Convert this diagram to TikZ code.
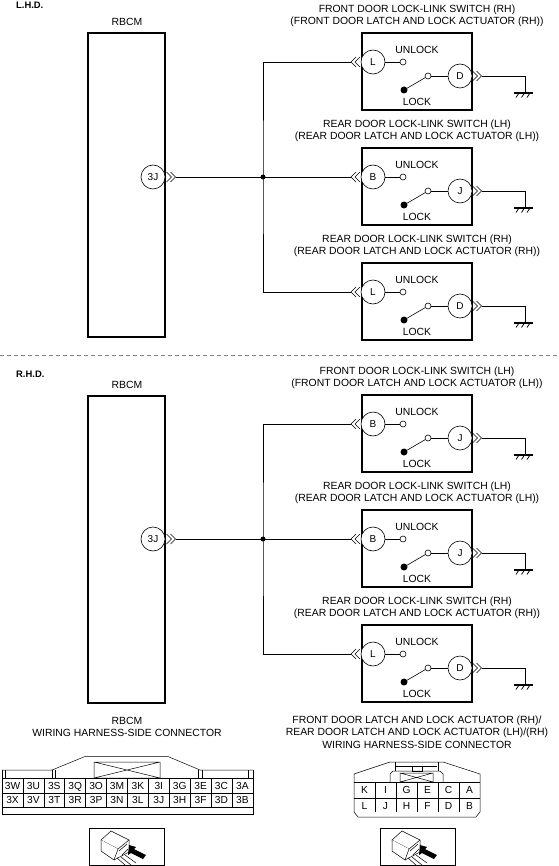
\documentclass[tikz,border=0pt]{standalone}
\usepackage{fontspec}
\setmainfont{Liberation Sans}
\tikzset{
  x=1pt,y=-1pt,
  lbl/.style={inner sep=0pt,font=\fontsize{10.4}{12}\selectfont,align=center},
  pinlbl/.style={inner sep=0pt,text height=7pt,text depth=0pt,font=\fontsize{10.2}{12}\selectfont},
  term/.style={circle,draw,fill=white,minimum size=24pt,inner sep=0pt,line width=0.6pt,font=\fontsize{10}{12}\selectfont},
  contact/.style={circle,draw,fill=white,minimum size=6pt,inner sep=0pt,line width=0.6pt},
  wire/.style={line width=0.6pt},
  outline/.style={line width=1.2pt},
  thinl/.style={line width=0.5pt},
  chevr/.pic={\draw[line width=0.5pt] (0,-5)--(5,0)--(0,5) (4,-5)--(9,0)--(4,5);},
  chevl/.pic={\draw[line width=0.5pt] (0,-5)--(-5,0)--(0,5) (-4,-5)--(-9,0)--(-4,5);},
  connview/.pic={
    \draw[thinl] (0,0) rectangle (75,37);
    \draw[thinl,fill=white] (12,12)--(22,3)--(40,12)--(29,21)--cycle;
    \draw[thinl,fill=white] (12,12)--(12,23)--(25,32)--(29,21);
    \draw[thinl] (40,12)--(40,24)--(25,32);
    \draw[thinl] (30,23)--(38,16) (33,27)--(39,21);
    \draw[thinl] (28,30)--(36,37) (32,29)--(42,37) (36,27)--(47,35);
    \fill (40,17)--(47,19)--(45,21)--(57,27)--(54,31)--(42,25)--(39,27)--cycle;
  }
}
\begin{document}
\begin{tikzpicture}
  \useasboundingbox (0,0) rectangle (558,866);
  \fill[white] (0,0) rectangle (558,866);
  \draw[dashed,line width=0.5pt,gray,dash pattern=on 4pt off 3pt] (0,355) -- (558,355);
  \node[inner sep=0pt,font=\fontsize{9.4}{10}\selectfont\bfseries] (lhd) at (16,5) [anchor=west] {L.H.D.};
  \node[inner sep=0pt,font=\fontsize{9.4}{10}\selectfont\bfseries] (rhd) at (16,374) [anchor=west] {R.H.D.};
  % control modules
  \foreach \m/\top/\bot/\wy in {a/33/337/177,b/396/703/539}{
    \draw[outline] (88,\top) rectangle (165,\bot);
    \node[lbl] (rbcm\m) at (127,\top-11) {RBCM};
    \node[term] (pin\m) at (153,\wy) {3J};
    \pic at (166.5,\wy) {chevr};
    \coordinate (out\m) at (175.5,\wy);
    \node[circle,fill,inner sep=0pt,minimum size=5pt] (jct\m) at (263,\wy) {};
  }
  % switches
  \foreach \n/\y/\p/\q/\ta/\tb in {
    a1/33/L/D/FRONT DOOR LOCK-LINK SWITCH (RH)/(FRONT DOOR LATCH AND LOCK ACTUATOR (RH)),
    a2/148/B/J/REAR DOOR LOCK-LINK SWITCH (LH)/(REAR DOOR LATCH AND LOCK ACTUATOR (LH)),
    a3/263/L/D/REAR DOOR LOCK-LINK SWITCH (RH)/(REAR DOOR LATCH AND LOCK ACTUATOR (RH)),
    b1/395/B/J/FRONT DOOR LOCK-LINK SWITCH (LH)/(FRONT DOOR LATCH AND LOCK ACTUATOR (LH)),
    b2/510/B/J/REAR DOOR LOCK-LINK SWITCH (LH)/(REAR DOOR LATCH AND LOCK ACTUATOR (LH)),
    b3/625/L/D/REAR DOOR LOCK-LINK SWITCH (RH)/(REAR DOOR LATCH AND LOCK ACTUATOR (RH))}{
    \begin{scope}[yshift=-\y pt]
      \draw[outline] (362,0) rectangle (472,77);
      \node[lbl] (title\n) at (417,-23) {\ta};
      \node[lbl] (sub\n) at (417,-11.5) {\tb};
      \node[term] (p\n) at (373,29) {\p};
      \node[term] (q\n) at (460,43) {\q};
      \node[contact] (un\n) at (403,29) {};
      \node[contact] (sw\n) at (428,43) {};
      \node[circle,fill,inner sep=0pt,minimum size=7pt] (lk\n) at (404,57) {};
      \node[lbl] (unl\n) at (417,17) {UNLOCK};
      \node[lbl] (lck\n) at (417,69) {LOCK};
      \draw[wire] (p\n) -- (un\n);
      \draw[wire] (sw\n) -- (q\n);
      \draw[wire] (lk\n.center) -- (sw\n);
      \pic at (360,29) {chevl};
      \pic at (472.5,43) {chevr};
      \coordinate (in\n) at (351,29);
      \coordinate (gnd\n) at (525,60);
      \draw[wire] (481.5,43) -| (gnd\n);
      \draw[line width=1.1pt] (514,60) -- (533,60);
      \draw[line width=0.8pt] (519,60) -- (516,64.5) (524.5,60) -- (521.5,64.5) (530,60) -- (527,64.5);
    \end{scope}
  }
  % harness
  \foreach \m in {a,b}{
    \draw[wire] (out\m) -- (in\m2);
    \draw[wire] (in\m1) -| (jct\m.center) |- (in\m3);
  }
  % rbcm connector
  \node[lbl] (rbcmc) at (127,721) {RBCM};
  \node[lbl] (rbcmw) at (127,733) {WIRING HARNESS-SIDE CONNECTOR};
  \draw[thinl] (2,770) -- (2,814) -- (253,814) -- (253,770);
  \draw[thinl] (2,770) -- (52,770) -- (85,756.5) -- (168,756.5) -- (200,770) -- (253,770);
  \draw[thinl] (5,770) -- (5,778) (52,770) -- (52,778) (55,770) -- (55,778);
  \draw[thinl] (198,770) -- (198,778) (202,770) -- (202,778) (248,770) -- (248,778);
  \draw[thinl] (94,762) rectangle (160,778) (94,762) -- (160,778) (160,762) -- (94,778);
  \draw[thinl] (2,778) -- (253,778) (2,793) -- (253,793) (2,807) -- (253,807);
  \foreach \i in {1,...,11} \draw[thinl] (2+\i*20.9,778) -- (2+\i*20.9,807);
  \foreach \lab [count=\i from 0] in {3W,3U,3S,3Q,3O,3M,3K,3I,3G,3E,3C,3A}
    \node[pinlbl] (c\lab) at (12.5+\i*20.9,785.5) {\lab};
  \foreach \lab [count=\i from 0] in {3X,3V,3T,3R,3P,3N,3L,3J,3H,3F,3D,3B}
    \node[pinlbl] (c\lab) at (12.5+\i*20.9,800) {\lab};
  \pic at (89,828) {connview};
  % door connector
  \node[lbl] (doorc) at (417,721) {FRONT DOOR LATCH AND LOCK ACTUATOR (RH)/};
  \node[lbl] (doord) at (417,733) {REAR DOOR LATCH AND LOCK ACTUATOR (LH)/(RH)};
  \node[lbl] (doore) at (417,745) {WIRING HARNESS-SIDE CONNECTOR};
  \draw[thinl] (354,781) -- (354,812) -- (358,817) -- (476,817) -- (480,812) -- (480,774) -- (443,762) -- (390,762) -- (354,774) -- cycle;
  \draw[thinl] (354,782) -- (480,782) (354,798) -- (480,798);
  \foreach \i in {375,396,417,438,459} \draw[thinl] (\i,782) -- (\i,812);
  \draw[thinl] (390,782) -- (390,774) -- (393,771) -- (440,771) -- (443,774) -- (443,782);
  \draw[thinl] (400,782) rectangle (433,773) (400,773) -- (433,782) (433,773) -- (400,782);
  \draw[thinl] (395,762) -- (395,771) (438,762) -- (438,771) (412,766) rectangle (422,771) (396,766) -- (437,766);
  \foreach \lab [count=\i from 0] in {K,I,G,E,C,A}
    \node[pinlbl] (d\lab) at (364.5+\i*21,790) {\lab};
  \foreach \lab [count=\i from 0] in {L,J,H,F,D,B}
    \node[pinlbl] (d\lab) at (364.5+\i*21,806) {\lab};
  \pic at (380,828) {connview};
\end{tikzpicture}
\end{document}
